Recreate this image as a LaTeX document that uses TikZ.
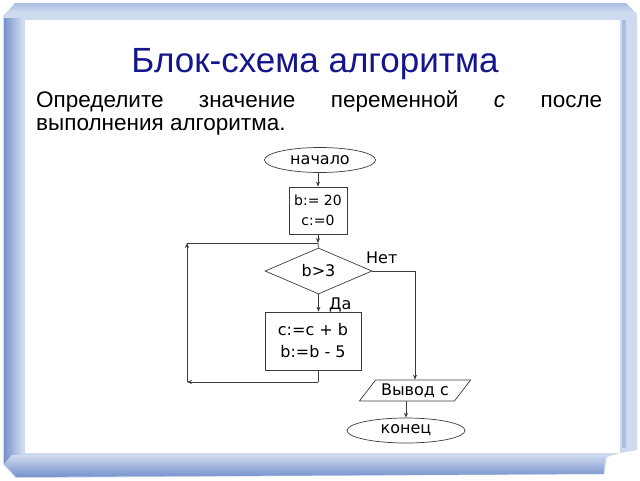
\documentclass[tikz,border=0pt]{standalone}
\usepackage{fontspec}
\setmainfont{Liberation Sans}
\newfontfamily\fcfont{DejaVu Sans}
\usetikzlibrary{shapes.geometric,arrows.meta}
\definecolor{framelight}{RGB}{206,218,238}
\definecolor{framemid}{RGB}{170,190,228}
\definecolor{framedark}{RGB}{118,146,204}
\definecolor{titleblue}{RGB}{22,22,140}
\definecolor{lineclr}{RGB}{60,60,60}
\tikzset{
  fc/.style={draw=lineclr, line width=0.7pt, font=\fcfont\fontsize{16}{20}\selectfont, inner sep=0pt, fill=white},
  terminal/.style={fc, ellipse},
  procbox/.style={fc, rectangle, align=center},
  decision/.style={fc, diamond, aspect=2.3},
  iobox/.style={fc, trapezium, trapezium left angle=45, trapezium right angle=135, trapezium stretches=true},
  conn/.style={draw=lineclr, line width=0.7pt},
  arr/.style={conn, -{Stealth[length=5pt,width=4pt]}},
  lbl/.style={font=\fcfont\fontsize{16}{20}\selectfont, inner sep=0pt}
}
\begin{document}
\begin{tikzpicture}[x=1pt,y=-1pt]
\useasboundingbox (0,0) rectangle (640,480);
% frame
\fill[white] (0,0) rectangle (640,480);
\fill[framelight] (3,16) -- (15,3) -- (626,3) -- (637,14) -- (637,450) -- (620,453) -- (607,457) -- (604,474) -- (16,478) -- (3,464) -- cycle;
\shade[left color=framedark, right color=framelight] (4,18) -- (22,18) -- (22,470) -- (4,464) -- cycle;
\shade[top color=framelight, bottom color=framedark] (12,455) -- (605,455) -- (604,474) -- (16,477) -- (4,464) -- cycle;
\shade[top color=framemid, bottom color=framelight] (15,3) -- (626,3) -- (634,12) -- (8,12) -- cycle;
\fill[framemid] (622,20) rectangle (626,448);
\fill[white] (25,20) rectangle (620,453);
% title and text
\node[anchor=base, font=\fontsize{35}{40}\selectfont, text=titleblue, inner sep=0pt] (title) at (315,72) {Блок-схема алгоритма};
\node[anchor=base west, font=\fontsize{22.5}{26}\selectfont, inner sep=0pt] (line1) at (36,107) {\makebox[566pt][s]{Определите значение переменной \textit{с} после}};
\node[anchor=base west, font=\fontsize{22.5}{26}\selectfont, inner sep=0pt] (line2) at (36,130) {выполнения алгоритма.};
% flowchart
\node[terminal, minimum width=111pt, minimum height=25pt] (start) at (320,160) {начало};
\node[procbox, minimum width=58pt, minimum height=47pt, font=\fcfont\fontsize{14}{20}\selectfont] (init) at (318,210.5) {b:= 20\\c:=0};
\node[decision, minimum width=107pt, minimum height=46pt] (cond) at (318.5,271) {b>3};
\node[procbox, minimum width=96pt, minimum height=58pt, font=\fcfont\fontsize{16}{22}\selectfont] (body) at (313,341) {c:=c + b\\b:=b - 5};
\node[iobox, minimum width=112pt, minimum height=21pt] (out) at (415,390.5) {Вывод с};
\node[terminal, minimum width=118pt, minimum height=25pt] (end) at (406,430.5) {конец};
\node[lbl, anchor=west] (no) at (366,258) {Нет};
\node[lbl, anchor=west] (yes) at (329,305) {Да};
% coordinates
\coordinate (j) at (318,243);
\coordinate (bl) at (318,382);
\coordinate (ll) at (187,382);
\coordinate (lt) at (187,243);
\coordinate (rc) at (415,271);
% connectors
\draw[arr] (start.south -| j) -- (init.north -| j);
\draw[arr] (init.south -| j) -- (j);
\draw[conn] (j) -- (cond.north);
\draw[arr] (cond.south) -- (body.north -| cond.south);
\draw[conn] (body.south -| bl) -- (bl);
\draw[arr] (bl) -- (ll);
\draw[arr] (ll) -- (lt);
\draw[conn] (lt) -- (j);
\draw[conn] (cond.east) -- (rc);
\draw[arr] (rc) -- (out.north -| rc);
\draw[arr] (out.south -| end.north) -- (end.north);
\end{tikzpicture}
\end{document}
